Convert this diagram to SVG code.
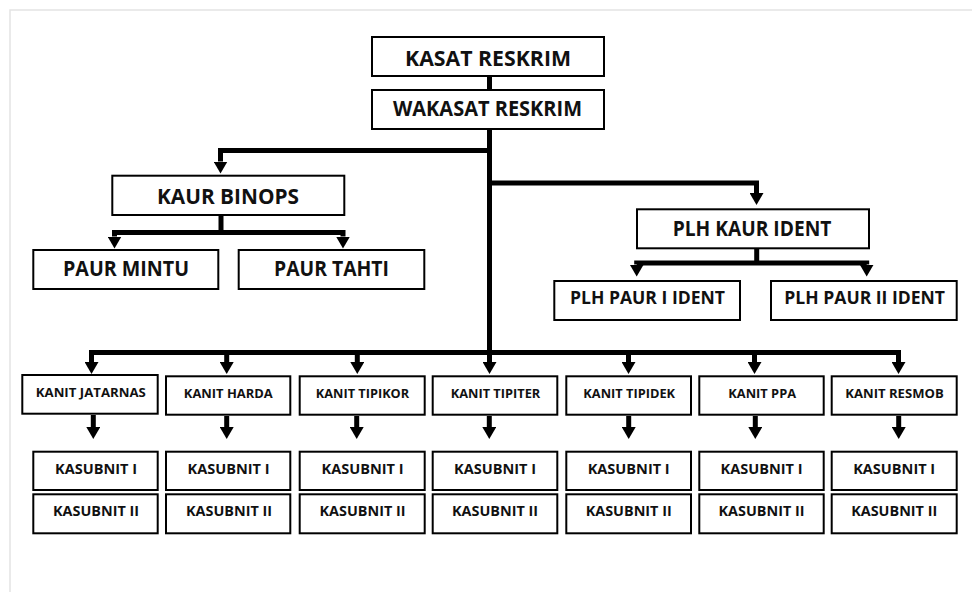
<svg xmlns="http://www.w3.org/2000/svg" width="972" height="592" viewBox="0 0 972 592">
<defs>
<style>
.box{fill:#fff;stroke:#000;stroke-width:2}
.t{font-family:"Open Sans","Liberation Sans",sans-serif;font-weight:700;fill:#111;text-anchor:middle}
.big{font-size:22px}
.mid{font-size:18px}
.sm{font-size:12.5px}
.ks{font-size:14px}
.c{fill:none;stroke:#000;stroke-width:5;stroke-linejoin:miter}
.page{fill:none;stroke:#e4e4e4;stroke-width:1.5}
</style>
<marker id="ah" viewBox="0 -7 12 14" refX="0" refY="0" markerWidth="12" markerHeight="14" markerUnits="userSpaceOnUse" orient="auto-start-reverse">
<path d="M0,-7 L12,0 L0,7 Z" fill="#000"/>
</marker>
</defs>
<rect width="972" height="592" fill="#fff"/>
<path class="page" d="M10,592 V10 H972"/>

<g id="connectors">
<path class="c" d="M489.5,77 V89"/>
<path class="c" d="M489.5,130 V362" marker-end="url(#ah)"/>
<path class="c" d="M489.5,150.5 H220.5 V161.5" marker-end="url(#ah)"/>
<path class="c" d="M489.5,183 H756.5 V193" marker-end="url(#ah)"/>
<path class="c" d="M221,216 V232.5"/>
<path class="c" d="M114.5,236.5 V232.5 H343 V236.5" marker-start="url(#ah)" marker-end="url(#ah)"/>
<path class="c" d="M756.7,249 V263"/>
<path class="c" d="M636.7,264.5 V263 H866.7 V264.5" marker-start="url(#ah)" marker-end="url(#ah)"/>
<path class="c" d="M91.5,362 V352.5 H898.5 V362" marker-start="url(#ah)" marker-end="url(#ah)"/>
<path class="c" d="M226.7,352.5 V362" marker-end="url(#ah)"/>
<path class="c" d="M357.3,352.5 V362" marker-end="url(#ah)"/>
<path class="c" d="M628.5,352.5 V362" marker-end="url(#ah)"/>
<path class="c" d="M754.5,352.5 V362" marker-end="url(#ah)"/>
<path class="c" d="M93.3,415 V427" marker-end="url(#ah)"/>
<path class="c" d="M226.7,416 V427" marker-end="url(#ah)"/>
<path class="c" d="M356.7,416 V427" marker-end="url(#ah)"/>
<path class="c" d="M489.3,416 V427" marker-end="url(#ah)"/>
<path class="c" d="M628.7,416 V427" marker-end="url(#ah)"/>
<path class="c" d="M755.3,416 V427" marker-end="url(#ah)"/>
<path class="c" d="M898.7,416 V427" marker-end="url(#ah)"/>
</g>

<g id="kasat"><rect class="box" x="372" y="37" width="232" height="39"/><text class="t big" x="488" y="66" textLength="166" lengthAdjust="spacingAndGlyphs">KASAT RESKRIM</text></g>
<g id="wakasat"><rect class="box" x="372" y="90" width="232" height="39"/><text class="t big" x="487.5" y="116" textLength="189" lengthAdjust="spacingAndGlyphs">WAKASAT RESKRIM</text></g>
<g id="kaur-binops"><rect class="box" x="112.3" y="175.7" width="232" height="39.3"/><text class="t big" x="228" y="203.5" textLength="142" lengthAdjust="spacingAndGlyphs">KAUR BINOPS</text></g>
<g id="paur-mintu"><rect class="box" x="33.3" y="250" width="185" height="39"/><text class="t big" x="126" y="276" textLength="126" lengthAdjust="spacingAndGlyphs">PAUR MINTU</text></g>
<g id="paur-tahti"><rect class="box" x="238.7" y="250" width="185.6" height="39"/><text class="t big" x="331.5" y="276" textLength="115" lengthAdjust="spacingAndGlyphs">PAUR TAHTI</text></g>
<g id="plh-kaur-ident"><rect class="box" x="637" y="209.3" width="232" height="39"/><text class="t big" x="752" y="235.7" textLength="158.7" lengthAdjust="spacingAndGlyphs">PLH KAUR IDENT</text></g>
<g id="plh-paur-1"><rect class="box" x="554.3" y="281" width="185.7" height="39"/><text class="t mid" x="647.5" y="304" textLength="155" lengthAdjust="spacingAndGlyphs">PLH PAUR I IDENT</text></g>
<g id="plh-paur-2"><rect class="box" x="771" y="281" width="185.7" height="39"/><text class="t mid" x="864.7" y="304" textLength="160.7" lengthAdjust="spacingAndGlyphs">PLH PAUR II IDENT</text></g>

<g id="kanit-jatarnas"><rect class="box" x="22.3" y="375" width="135.4" height="38.7"/><text class="t sm" x="90.8" y="397.3" textLength="110" lengthAdjust="spacingAndGlyphs">KANIT JATARNAS</text></g>
<g id="kanit-harda"><rect class="box" x="166" y="376.3" width="124.3" height="38.4"/><text class="t sm" x="228.3" y="397.7" textLength="89" lengthAdjust="spacingAndGlyphs">KANIT HARDA</text></g>
<g id="kanit-tipikor"><rect class="box" x="299.7" y="376.3" width="125" height="38.4"/><text class="t sm" x="362.5" y="397.7" textLength="93.3" lengthAdjust="spacingAndGlyphs">KANIT TIPIKOR</text></g>
<g id="kanit-tipiter"><rect class="box" x="432.7" y="376.3" width="124.6" height="38.4"/><text class="t sm" x="495.5" y="397.7" textLength="89.6" lengthAdjust="spacingAndGlyphs">KANIT TIPITER</text></g>
<g id="kanit-tipidek"><rect class="box" x="566.3" y="376.3" width="124.7" height="38.4"/><text class="t sm" x="629.2" y="397.7" textLength="91.7" lengthAdjust="spacingAndGlyphs">KANIT TIPIDEK</text></g>
<g id="kanit-ppa"><rect class="box" x="699.3" y="376.3" width="124.4" height="38.4"/><text class="t sm" x="762.2" y="397.7" textLength="67.7" lengthAdjust="spacingAndGlyphs">KANIT PPA</text></g>
<g id="kanit-resmob"><rect class="box" x="831.7" y="376.3" width="125" height="38.4"/><text class="t sm" x="894.5" y="397.7" textLength="98.4" lengthAdjust="spacingAndGlyphs">KANIT RESMOB</text></g>

<g id="jatarnas-sub1"><rect class="box" x="33.3" y="451.7" width="124.4" height="38.3"/><text class="t ks" x="96" y="473.7" textLength="82" lengthAdjust="spacingAndGlyphs">KASUBNIT I</text></g>
<g id="jatarnas-sub2"><rect class="box" x="33.3" y="494.3" width="124.4" height="39"/><text class="t ks" x="96" y="515.8" textLength="86" lengthAdjust="spacingAndGlyphs">KASUBNIT II</text></g>
<g id="harda-sub1"><rect class="box" x="166" y="451.7" width="124.3" height="38.3"/><text class="t ks" x="228.5" y="473.7" textLength="82" lengthAdjust="spacingAndGlyphs">KASUBNIT I</text></g>
<g id="harda-sub2"><rect class="box" x="166" y="494.3" width="124.3" height="39"/><text class="t ks" x="229" y="515.8" textLength="86" lengthAdjust="spacingAndGlyphs">KASUBNIT II</text></g>
<g id="tipikor-sub1"><rect class="box" x="299.7" y="451.7" width="125" height="38.3"/><text class="t ks" x="362.5" y="473.7" textLength="82" lengthAdjust="spacingAndGlyphs">KASUBNIT I</text></g>
<g id="tipikor-sub2"><rect class="box" x="299.7" y="494.3" width="125" height="39"/><text class="t ks" x="362.5" y="515.8" textLength="86" lengthAdjust="spacingAndGlyphs">KASUBNIT II</text></g>
<g id="tipiter-sub1"><rect class="box" x="432.7" y="451.7" width="124.6" height="38.3"/><text class="t ks" x="495" y="473.7" textLength="82" lengthAdjust="spacingAndGlyphs">KASUBNIT I</text></g>
<g id="tipiter-sub2"><rect class="box" x="432.7" y="494.3" width="124.6" height="39"/><text class="t ks" x="495" y="515.8" textLength="86" lengthAdjust="spacingAndGlyphs">KASUBNIT II</text></g>
<g id="tipidek-sub1"><rect class="box" x="566.3" y="451.7" width="124.7" height="38.3"/><text class="t ks" x="628.7" y="473.7" textLength="82" lengthAdjust="spacingAndGlyphs">KASUBNIT I</text></g>
<g id="tipidek-sub2"><rect class="box" x="566.3" y="494.3" width="124.7" height="39"/><text class="t ks" x="628.7" y="515.8" textLength="86" lengthAdjust="spacingAndGlyphs">KASUBNIT II</text></g>
<g id="ppa-sub1"><rect class="box" x="699.3" y="451.7" width="124.4" height="38.3"/><text class="t ks" x="761.5" y="473.7" textLength="82" lengthAdjust="spacingAndGlyphs">KASUBNIT I</text></g>
<g id="ppa-sub2"><rect class="box" x="699.3" y="494.3" width="124.4" height="39"/><text class="t ks" x="761.5" y="515.8" textLength="86" lengthAdjust="spacingAndGlyphs">KASUBNIT II</text></g>
<g id="resmob-sub1"><rect class="box" x="831.7" y="451.7" width="125" height="38.3"/><text class="t ks" x="894.2" y="473.7" textLength="82" lengthAdjust="spacingAndGlyphs">KASUBNIT I</text></g>
<g id="resmob-sub2"><rect class="box" x="831.7" y="494.3" width="125" height="39"/><text class="t ks" x="894.2" y="515.8" textLength="86" lengthAdjust="spacingAndGlyphs">KASUBNIT II</text></g>
</svg>
